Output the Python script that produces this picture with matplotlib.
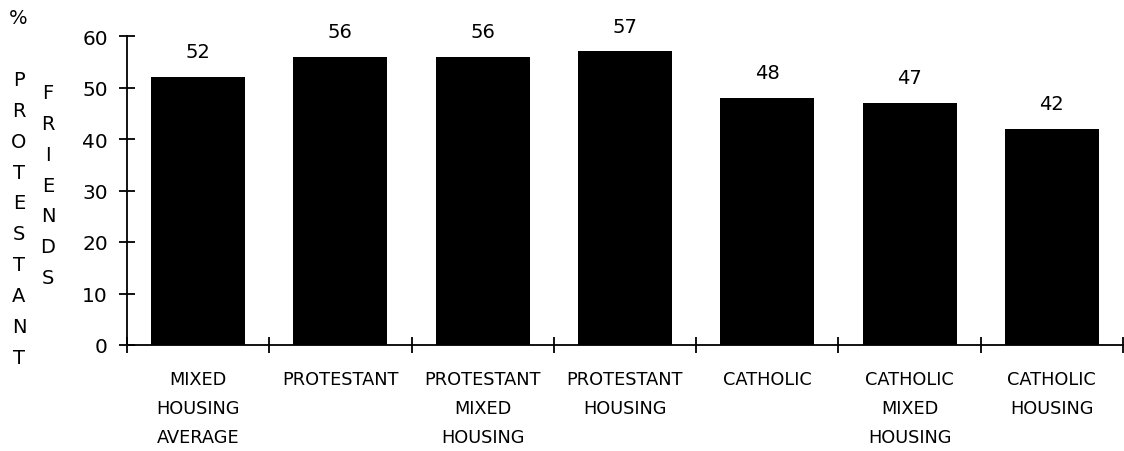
import matplotlib
matplotlib.use("Agg")
import matplotlib.pyplot as plt
import numpy as np

categories = ["MIXED\nHOUSING\nAVERAGE", "PROTESTANT", "PROTESTANT\nMIXED\nHOUSING",
              "PROTESTANT\nHOUSING", "CATHOLIC", "CATHOLIC\nMIXED\nHOUSING", "CATHOLIC\nHOUSING"]
values = [52, 56, 56, 57, 48, 47, 42]
yticks = [0, 10, 20, 30, 40, 50, 60]

plt.rcParams['font.family'] = ['DejaVu Sans']
fig = plt.figure(figsize=(11.24, 4.52), dpi=100)
ax = fig.add_axes([127/1124, 1-346/452, (1123-127)/1124, (346-37)/452])

x = np.arange(len(values))
bars = ax.bar(x, values, width=0.66, color='black')
for xi, v in zip(x, values):
    ax.annotate(f"{v}", (xi, v), xytext=(0, 18.3), textcoords='offset points',
                ha='center', va='center', fontsize=14)

ax.set_xlim(-0.5, len(values) - 0.5)
ax.set_ylim(0, 60)
ax.set_yticks(yticks)
ax.set_xticks(x)
ax.set_xticklabels(categories, fontsize=12.8, linespacing=1.78, va='top')
ax.set_xticks(np.arange(-0.5, len(values), 1.0), minor=True)
ax.tick_params(axis='x', which='major', length=0, pad=18)
ax.tick_params(axis='x', which='minor', direction='inout', length=11.5, width=1.3)
ax.tick_params(axis='y', direction='inout', length=11.5, width=1.3, labelsize=14.5, pad=8)
for s in ['top', 'right']:
    ax.spines[s].set_visible(False)
for s in ['left', 'bottom']:
    ax.spines[s].set_linewidth(1.3)

fig.text(18/1124, 1-18/452, "%", ha='center', va='center', fontsize=14)
fig.text(19/1124, 1-71/452, "\n".join("PROTESTANT"), ha='center', va='top', fontsize=14, linespacing=1.79)
fig.text(48/1124, 1-84/452, "\n".join("FRIENDS"), ha='center', va='top', fontsize=14, linespacing=1.79)

fig.savefig("out.png", dpi=100)
